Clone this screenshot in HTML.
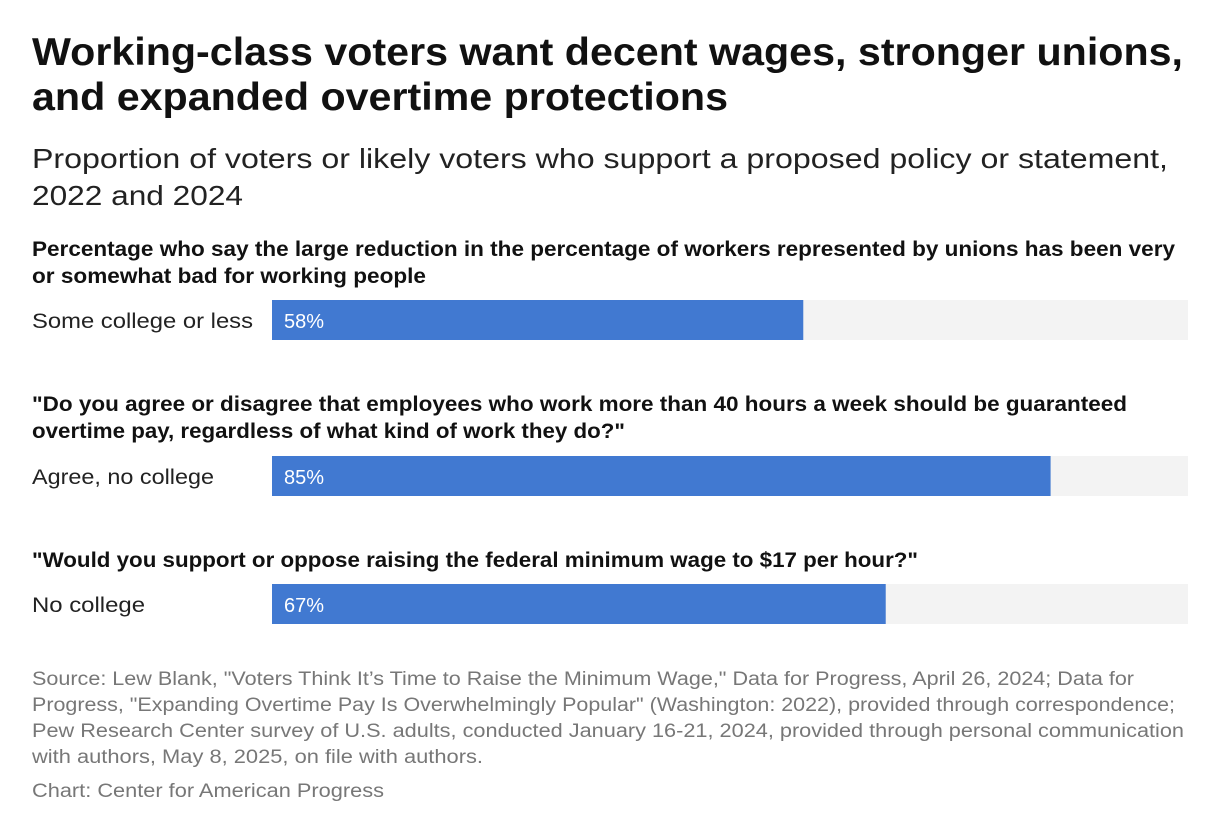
<!DOCTYPE html>
<html><head><meta charset="utf-8"><style>
html,body{margin:0;padding:0;background:#fff;}
svg{display:block;font-family:"Liberation Sans",Arial,sans-serif;}
</style></head><body>
<svg id="chart" width="1220" height="836" viewBox="0 0 1220 836">
<g fill="#111" font-weight="bold" font-size="39">
<text x="32" y="65" textLength="1151" lengthAdjust="spacingAndGlyphs">Working-class voters want decent wages, stronger unions,</text>
<text x="32" y="110" textLength="696" lengthAdjust="spacingAndGlyphs">and expanded overtime protections</text>
</g>
<g fill="#222" font-size="28">
<text x="32" y="168" textLength="1136" lengthAdjust="spacingAndGlyphs">Proportion of voters or likely voters who support a proposed policy or statement,</text>
<text x="32" y="205" textLength="211" lengthAdjust="spacingAndGlyphs">2022 and 2024</text>
</g>
<g id="bars"></g>
<g fill="#777" font-size="19">
<text x="32" y="685" textLength="1102" lengthAdjust="spacingAndGlyphs">Source: Lew Blank, "Voters Think It’s Time to Raise the Minimum Wage," Data for Progress, April 26, 2024; Data for</text>
<text x="32" y="711" textLength="1143" lengthAdjust="spacingAndGlyphs">Progress, "Expanding Overtime Pay Is Overwhelmingly Popular" (Washington: 2022), provided through correspondence;</text>
<text x="32" y="737" textLength="1152" lengthAdjust="spacingAndGlyphs">Pew Research Center survey of U.S. adults, conducted January 16-21, 2024, provided through personal communication</text>
<text x="32" y="763" textLength="451" lengthAdjust="spacingAndGlyphs">with authors, May 8, 2025, on file with authors.</text>
</g>
<text x="32" y="797" fill="#777" font-size="19" textLength="352" lengthAdjust="spacingAndGlyphs">Chart: Center for American Progress</text>
</svg>
<script>
const categories = ["Some college or less", "Agree, no college", "No college"];
const values = [58, 85, 67];
const valueLabels = ["58%", "85%", "67%"];
const headings = [
  ["Percentage who say the large reduction in the percentage of workers represented by unions has been very", "or somewhat bad for working people"],
  ["\"Do you agree or disagree that employees who work more than 40 hours a week should be guaranteed", "overtime pay, regardless of what kind of work they do?\""],
  ["\"Would you support or oppose raising the federal minimum wage to $17 per hour?\""]
];
const headingWidths = [[1143, 394], [1095, 593], [886]];
const labelWidths = [221, 182, 113];

const NS = "http://www.w3.org/2000/svg";
const g = document.getElementById("bars");
const x0 = 272, trackW = 916, barH = 40;
const xScale = v => trackW * v / 100;
const headY = [256, 411, 567];
const barY = [300, 456, 584];
function mk(tag, attrs, parent, txt) {
  const e = document.createElementNS(NS, tag);
  for (const k in attrs) e.setAttribute(k, attrs[k]);
  if (txt !== undefined) e.textContent = txt;
  parent.appendChild(e);
  return e;
}
categories.forEach((c, i) => {
  headings[i].forEach((line, j) => {
    const t = mk("text", {x: 32, y: headY[i] + j * 27, "font-size": 21, "font-weight": "bold", fill: "#111", textLength: headingWidths[i][j], lengthAdjust: "spacingAndGlyphs"}, g, line);
    
    
  });
  const lab = mk("text", {x: 32, y: barY[i] + 28, "font-size": 21, fill: "#222", textLength: labelWidths[i], lengthAdjust: "spacingAndGlyphs"}, g, c);
  
  
  const tr = mk("rect", {x: x0, y: barY[i], width: trackW, height: barH, fill: "#f3f3f3"}, g);
  
  
  const b = mk("rect", {x: x0, y: barY[i], width: xScale(values[i]), height: barH, fill: "#4179d1"}, g);
  
  
  const vl = mk("text", {x: x0 + 12, y: barY[i] + 28, "font-size": 20, fill: "#fff"}, g, valueLabels[i]);
  
  
});
</script>
</body></html>
